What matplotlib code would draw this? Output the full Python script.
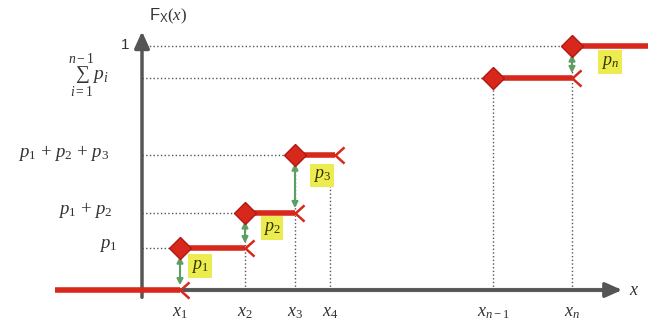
import numpy as np
import matplotlib.pyplot as plt
from matplotlib.path import Path

plt.rcParams['mathtext.fontset'] = 'custom'
plt.rcParams['mathtext.rm'] = 'Liberation Serif'
plt.rcParams['mathtext.it'] = 'Liberation Serif:italic'
plt.rcParams['mathtext.sf'] = 'Liberation Sans'

# puntos de salto y niveles acumulados de la CDF
x_jumps = [0.38, 1.03, 1.53, 3.51, 4.30]
x_next = [1.03, 1.53, 1.93, 4.30, 5.06]
levels = [0.172, 0.316, 0.553, 0.869, 1.0]
prev_levels = [0.0, 0.172, 0.316, 0.553, 0.869]
x_start = -0.87
x_names = [r'$x_1$', r'$x_2$', r'$x_3$', r'$x_4$', r'$x_{n-1}$', r'$x_n$']
x_ticks = [0.38, 1.03, 1.53, 1.88, 3.51, 4.30]
level_names = [r'$p_1$', r'$p_1$ + $p_2$', r'$p_1$ + $p_2$ + $p_3$',
               r'$\sum_{i=1}^{n-1}p_i$', '1']
jump_names = [r'$p_1$', r'$p_2$', r'$p_3$', None, r'$p_n$']
jump_label_x = [0.20, 0.27, 0.27, 0, 0.38]
jump_label_y = [0.098, 0.254, 0.47, 0, 0.934]

red = '#d8281c'
gray = '#7a7a7a'
green = '#5d9e62'

# extremo abierto del escalón (horquilla)
fork = Path([(0, 0), (1, 0.9), (0, 0), (1, -0.9)],
            [Path.MOVETO, Path.LINETO, Path.MOVETO, Path.LINETO])

fig = plt.figure(figsize=(6.51, 3.25), dpi=100)
ax = fig.add_axes([0, 0, 1, 1])
ax.set_xlim(-1.42, 5.09)
ax.set_ylim(-0.1434, 1.1885)
ax.axis('off')

# ejes con flechas
ax.annotate('', xy=(4.80, 0), xytext=(0, 0),
            arrowprops=dict(arrowstyle='-|>,head_length=1.0,head_width=0.45',
                            color='#555555', lw=2.5, shrinkA=0, shrinkB=0))
ax.annotate('', xy=(0, 1.06), xytext=(0, -0.03),
            arrowprops=dict(arrowstyle='-|>,head_length=1.0,head_width=0.45',
                            color='#555555', lw=2.5, shrinkA=0, shrinkB=0))
ax.plot([0, 4.75], [0, 0], color=gray, lw=3, zorder=1)

# líneas punteadas de referencia
for xj, lv in zip(x_jumps, levels):
    ax.plot([0, xj], [lv, lv], ls=':', color='#555555', lw=1, zorder=1)
for xt, lv in zip(x_ticks[1:], [0.316, 0.553, 0.50, 0.869, 1.0]):
    ax.plot([xt, xt], [0, lv], ls=':', color='#555555', lw=1, zorder=1)

# tramo inicial en cero
ax.plot([x_start, x_jumps[0]], [0, 0], color=red, lw=4, solid_capstyle='butt', zorder=3)
ax.plot(x_jumps[0], 0, marker=fork, ms=13, mew=1.8, color=red, zorder=4)

# escalones
for i, (x0, x1, lv) in enumerate(zip(x_jumps, x_next, levels)):
    ax.plot([x0, x1], [lv, lv], color=red, lw=4, solid_capstyle='butt', zorder=3)
    ax.plot(x0, lv, marker='D', ms=11, color=red, mec='#b01810', zorder=5)
    if i < len(x_jumps) - 1:
        ax.plot(x1, lv, marker=fork, ms=13, mew=1.8, color=red, zorder=4)

# saltos p_i
for x0, lo, hi, name, dx, ly in zip(x_jumps, prev_levels, levels, jump_names,
                                    jump_label_x, jump_label_y):
    if name is None:
        continue
    ax.annotate('', xy=(x0, hi - 0.035), xytext=(x0, lo + 0.02),
                arrowprops=dict(arrowstyle='<|-|>,head_length=0.35,head_width=0.18',
                                color=green, lw=1.5, shrinkA=0, shrinkB=0), zorder=2)
    ax.text(x0 + dx, ly, name, fontsize=13, ha='center',
            va='center', color='#333300',
            bbox=dict(boxstyle='square,pad=0.15', fc='#ecec50', ec='none'))

# etiquetas del eje y
label_x = [-0.34, -0.57, -0.78, -0.54, -0.17]
for lx, lv, name in zip(label_x, levels, level_names):
    if name == '1':
        ax.text(-0.17, 1.005, name, fontsize=11, ha='center', va='center',
                color='#333333', family='Liberation Sans')
    elif 'sum' in name:
        ax.text(lx, lv + 0.01, name, fontsize=14, ha='center', va='center',
                color='#333333')
    else:
        ax.text(lx, lv + 0.01, name, fontsize=13.5, ha='center', va='center',
                color='#333333', family='Liberation Serif')

# etiquetas del eje x
for xt, name in zip(x_ticks, x_names):
    ax.text(xt, -0.09, name, fontsize=13, ha='center', va='center', color='#333333')
ax.text(4.92, 0.0, r'$x$', fontsize=13, ha='center', va='center', color='#333333')
ax.text(0.26, 1.12, r'$\mathsf{F}_{\mathsf{X}}(x)$', fontsize=12, ha='center',
        va='center', color='#333333')

fig.savefig('out.png', dpi=100)
